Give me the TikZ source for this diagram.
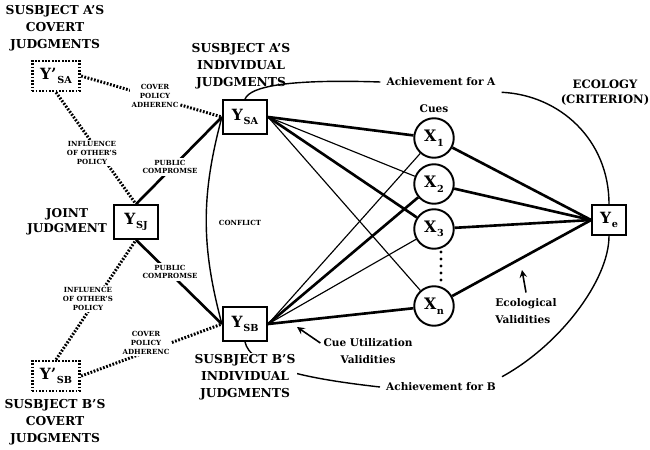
\documentclass[tikz,border=0pt]{standalone}
\usepackage{fontspec}
\setmainfont{DejaVu Serif}
\usetikzlibrary{arrows,calc}

% variable with a lowered subscript
\newcommand{\vsub}[2]{#1\kern0.4pt\raisebox{-0.55ex}{\fontsize{5.5}{5.5}\selectfont #2}}

\begin{document}
\begin{tikzpicture}[
    x=0.02cm, y=-0.02cm,
    judge/.style={draw, rectangle, line width=1.3pt, minimum width=25pt, minimum height=19pt, inner sep=1pt, fill=white, font=\fontsize{8.8}{10}\selectfont\bfseries},
    covert/.style={judge, line width=1.6pt, dash pattern=on 1pt off 0.9pt, minimum width=27pt, minimum height=17pt},
    cue/.style={draw, circle, line width=1.1pt, minimum size=22.5pt, inner sep=0pt, font=\fontsize{9}{10}\selectfont\bfseries},
    heading/.style={align=center, font=\fontsize{7}{9.6}\selectfont\bfseries},
    tag/.style={align=center, fill=white, inner sep=1pt, font=\fontsize{4}{5}\selectfont\bfseries},
    note/.style={align=center, font=\fontsize{6}{9.4}\selectfont\bfseries},
    strong/.style={line width=1.5pt},
    weak/.style={line width=0.65pt},
    arc/.style={line width=0.8pt},
    policy/.style={line width=1.7pt, dash pattern=on 1pt off 0.9pt},
    pointer/.style={-stealth, line width=0.9pt},
]

\useasboundingbox (0,0) rectangle (650,450);

% Judgment boxes
\node[covert] (ycsa) at (56,76) {\vsub{Y'}{SA}};
\node[covert] (ycsb) at (56,376) {\vsub{Y'}{SB}};
\node[judge] (ysj) at (136,222) {\vsub{Y}{SJ}};
\node[judge] (ysa) at (245,117) {\vsub{Y}{SA}};
\node[judge] (ysb) at (245,324) {\vsub{Y}{SB}};
\node[judge, minimum width=19pt, minimum height=17pt] (ye) at (609,220) {\vsub{Y}{e}};

% Cues
\node[cue] (x1) at (434,138) {\vsub{X}{1}};
\node[cue] (x2) at (434,184) {\vsub{X}{2}};
\node[cue] (x3) at (434,229) {\vsub{X}{3}};
\node[cue] (xn) at (434,306) {\vsub{X}{n}};
\foreach \y in {252,259,266,273,280}
  \fill (441,\y) circle (0.9pt);

% Headings
\node[heading] (hcsa) at (55,28) {SUSBJECT A'S\\COVERT\\JUDGMENTS};
\node[heading] (hisa) at (241,66) {SUSBJECT A'S\\INDIVIDUAL\\JUDGMENTS};
\node[heading, font=\fontsize{6.9}{8.6}\selectfont\bfseries] (hjoint) at (67,222) {JOINT\\JUDGMENT};
\node[heading] (hcsb) at (55,422) {SUSBJECT B'S\\COVERT\\JUDGMENTS};
\node[heading, font=\fontsize{6.6}{8.6}\selectfont\bfseries] (heco) at (605,93) {ECOLOGY\\(CRITERION)};
\node[note] (cues) at (434,109) {Cues};

% Subject A to cues
\draw[strong] (ysa.east) -- (x1);
\draw[weak] (ysa.east) -- (x2);
\draw[strong] (ysa.east) -- (x3);
\draw[weak] (ysa.east) -- (xn);

% Subject B to cues
\draw[weak] (ysb.east) -- (x1);
\draw[strong] (ysb.east) -- (x2);
\draw[weak] (ysb.east) -- (x3);
\draw[strong] (ysb.east) -- (xn);

% Cues to criterion
\foreach \c in {x1,x2,x3,xn}
  \draw[strong] (\c) -- (ye.west);

% Joint judgment
\draw[strong] (ysj.north) -- (ysa.west);
\node[tag] (pubA) at (170,167) {PUBLIC\\COMPROMSE};
\draw[strong] (ysj.south) -- (ysb.west);
\node[tag] (pubB) at (170,272) {PUBLIC\\COMPROMSE};
\draw[arc] (ysa.west) to[bend right=15] (ysb.west);
\node[tag, fill=none] (conflict) at (240,223) {CONFLICT};

% Covert policies
\draw[policy] (ycsa.east) -- (ysa.west);
\node[tag] (covA) at (155,96) {COVER\\POLICY\\ADHERENC};
\draw[policy] (ycsa.south) -- (ysj.north);
\node[tag] (infA) at (92,153) {INFLUENCE\\OF OTHER'S\\POLICY};
\draw[policy] (ycsb.north) -- (ysj.south);
\node[tag] (infB) at (88,299) {INFLUENCE\\OF OTHER'S\\POLICY};
\draw[policy] (ycsb.east) -- (ysb.west);
\node[tag] (covB) at (146,343) {COVER\\POLICY\\ADHERENC};

% Achievement
\node[note] (achA) at (441,82) {Achievement for A};
\node[note] (achB) at (441,387) {Achievement for B};
\draw[arc] (ysa.north) .. controls (250,86) and (290,79) .. (achA.west);
\draw[arc] (achA.south east) .. controls (560,95) and (609,140) .. (ye.north);
\draw[arc] (ysb.south) .. controls (250,366) and (300,378) .. (achB.west);
\draw[arc] (achB.north east) .. controls (560,345) and (609,280) .. (ye.south);
\node[heading, fill=white, inner sep=1pt] (hisb) at (245,377) {SUSBJECT B'S\\INDIVIDUAL\\JUDGMENTS};

% Validities
\node[note] (cueval) at (368,351) {Cue Utilization\\Validities};
\coordinate (cuetip) at (297,327);
\draw[pointer] ([shift={(3,-8)}]cueval.west) -- (cuetip);
\node[note, align=left] (ecoval) at (526,311) {Ecological\\Validities};
\coordinate (ecotip) at (522,270);
\draw[pointer] (ecoval.north) -- (ecotip);

\end{tikzpicture}
\end{document}
